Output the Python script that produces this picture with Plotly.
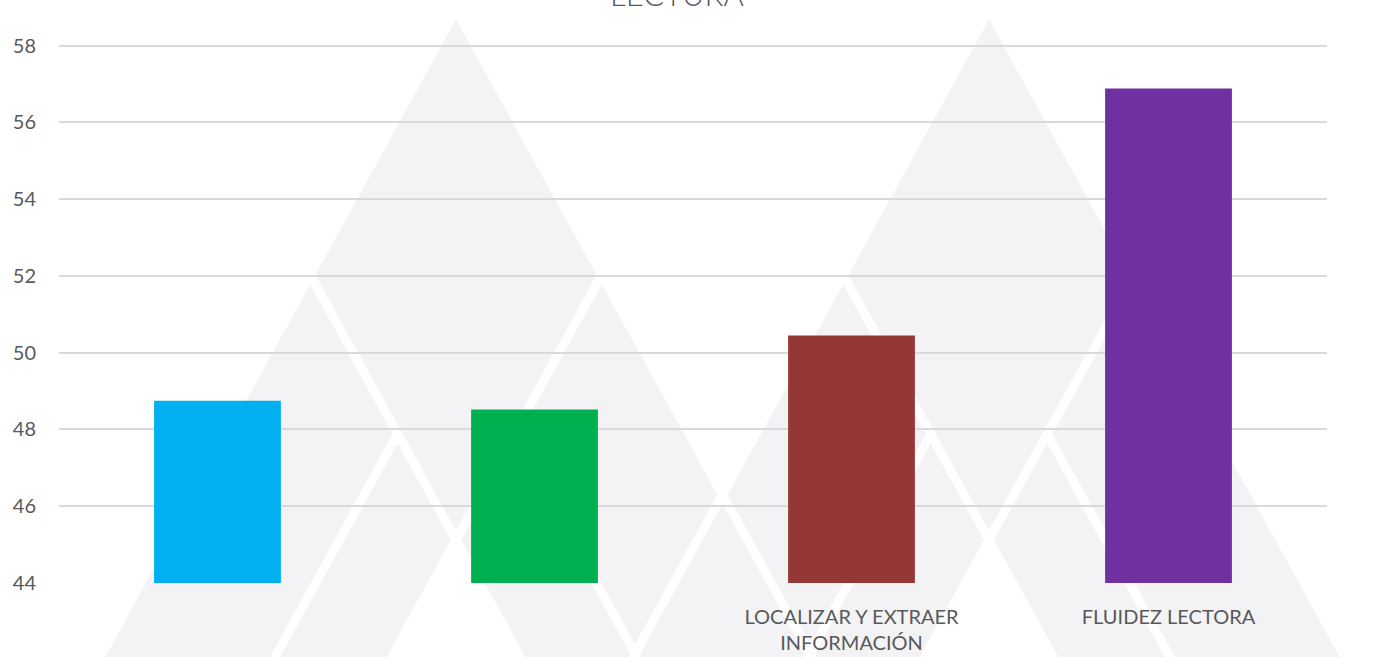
import plotly.graph_objects as go

# ---- data ----
categories = ["", "", "LOCALIZAR Y EXTRAER<br>INFORMACIÓN", "FLUIDEZ LECTORA"]
values = [48.75, 48.52, 50.45, 56.88]
colors = ["#00B0F0", "#00B050", "#953735", "#7030A0"]
y_ticks = [44, 46, 48, 50, 52, 54, 56, 58]
title_text = "LECTURA"

W, H = 1385, 657
ML, MR, MT, MB = 59, 58, 44, 74
PW, PH = W - ML - MR, H - MT - MB

positions = list(range(len(categories)))

fig = go.Figure()
fig.add_trace(go.Bar(
    x=positions, y=values, marker=dict(color=colors, line=dict(width=0)),
    width=0.4, showlegend=False, hoverinfo="x+y"
))

# ---- decorative watermark (background triangles), pixel -> paper ----
def px(x):
    return (x - ML) / PW

def py(y):
    return (H - MB - y) / PH

def path(pts):
    return "M " + " L ".join(f"{px(a):.5f},{py(b):.5f}" for a, b in pts) + " Z"

GRAY = "#f3f3f5"
s = 0.55
BOT = 720
shapes = []
apexes = [456, 989]
for cx in apexes:
    shapes.append(dict(type="path", xref="paper", yref="paper", layer="below",
                       path=path([(cx, 10), (cx - s * (BOT - 10), BOT), (cx + s * (BOT - 10), BOT)]),
                       fillcolor=GRAY, line=dict(width=0)))

def wline(x0, y0, x1, y1, w=9):
    shapes.append(dict(type="line", xref="paper", yref="paper", layer="below",
                       x0=px(x0), y0=py(y0), x1=px(x1), y1=py(y1),
                       line=dict(color="white", width=w)))

for cx in apexes:
    # outer edges (gaps where the two big triangles overlap)
    wline(cx, 10, cx - s * (BOT - 10), BOT)
    wline(cx, 10, cx + s * (BOT - 10), BOT)
    # rhombus lower edges, continuing down
    xl = cx - s * 265
    xr = cx + s * 265
    wline(xl, 275, xl + s * (BOT - 275), BOT)
    wline(xr, 275, xr - s * (BOT - 275), BOT)
    # inner lines of the side sub-triangles
    yi = 434
    xa = xl + s * (yi - 275)
    xb = xr - s * (yi - 275)
    wline(xa, yi, xa - s * (BOT - yi), BOT)
    wline(xb, yi, xb + s * (BOT - yi), BOT)
    # white wedge below the rhombus
    shapes.append(dict(type="path", xref="paper", yref="paper", layer="below",
                       path=path([(cx, 540), (cx - s * (BOT - 540), BOT), (cx + s * (BOT - 540), BOT)]),
                       fillcolor="white", line=dict(width=0)))

fig.update_layout(
    width=W, height=H,
    margin=dict(l=ML, r=MR, t=MT, b=MB, pad=0),
    paper_bgcolor="white", plot_bgcolor="rgba(0,0,0,0)",
    shapes=shapes,
    font=dict(family="Lato, Carlito, Arial", color="#595959"),
    xaxis=dict(
        range=[-0.5, len(categories) - 0.5],
        tickmode="array", tickvals=positions, ticktext=categories,
        showgrid=False, zeroline=False, showline=False, ticks="",
        tickfont=dict(size=20, color="#595959"),
        ticklabelstandoff=20, fixedrange=True, automargin=False,
    ),
    yaxis=dict(
        range=[44, 58.04], tickmode="array", tickvals=y_ticks,
        ticktext=[str(v) for v in y_ticks],
        showgrid=True, gridcolor="#d9d9d9", gridwidth=1.5,
        zeroline=False, showline=False, ticks="",
        tickfont=dict(size=20, color="#595959"),
        ticklabelstandoff=22, fixedrange=True, automargin=False,
    ),
    annotations=[dict(
        text=title_text, xref="paper", yref="paper",
        x=px(677), y=py(-6), xanchor="center", yanchor="middle",
        showarrow=False, font=dict(size=31, color="#595959", family="Lato", weight=300),
    )],
)

fig.write_html("out.html", config={"displayModeBar": False})
